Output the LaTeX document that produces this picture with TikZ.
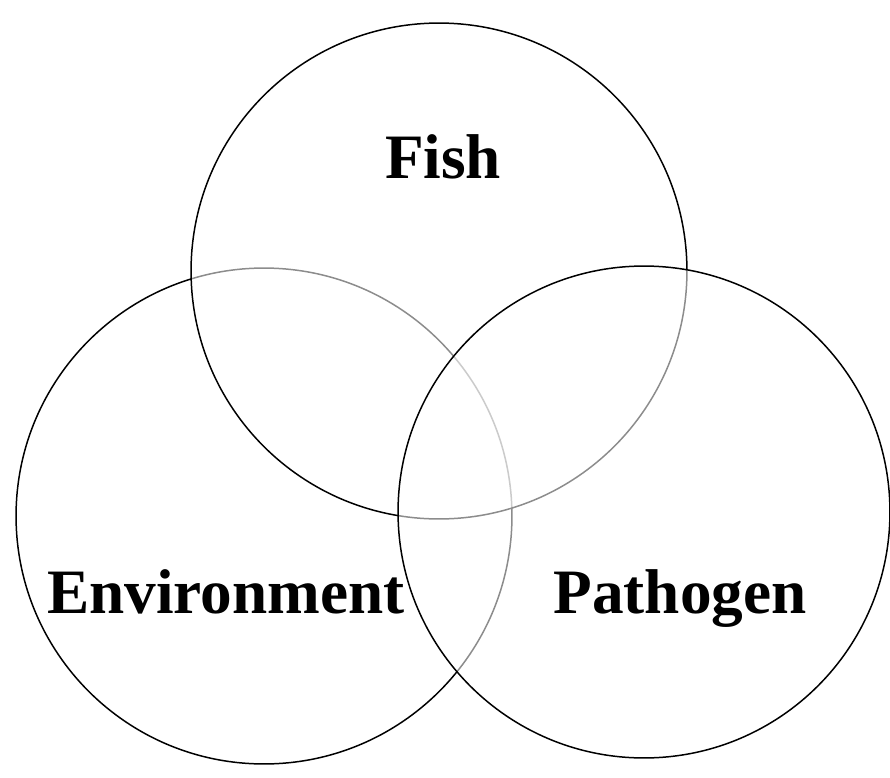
\documentclass[tikz,border=0pt]{standalone}
\usepackage{fontspec}
\setmainfont{Liberation Serif}
\usetikzlibrary{positioning}

\begin{document}
\begin{tikzpicture}[x=0.02cm, y=-0.02cm]
		\useasboundingbox (0,0) rectangle (890,778);

		\tikzset{
			set/.style={draw, line width=0.85pt, circle, minimum size=9.92cm, inner sep=0pt, fill=white, fill opacity=0.55, draw opacity=1},
			setlabel/.style={font=\fontsize{36}{40}\selectfont\bfseries, anchor=base, inner sep=0pt}
		}

		\node[set] (env) at (264,516) {};
		\node[set] (fish) at (439,271) {};
		\node[set, minimum size=9.84cm] (path) at (644,512) {};

		\node[setlabel] (fishlbl) at (443,178) {Fish};
		\node[setlabel] (envlbl) at (226,613) {Environment};
		\node[setlabel] (pathlbl) at (680,613) {Pathogen};
	\end{tikzpicture}
\end{document}
